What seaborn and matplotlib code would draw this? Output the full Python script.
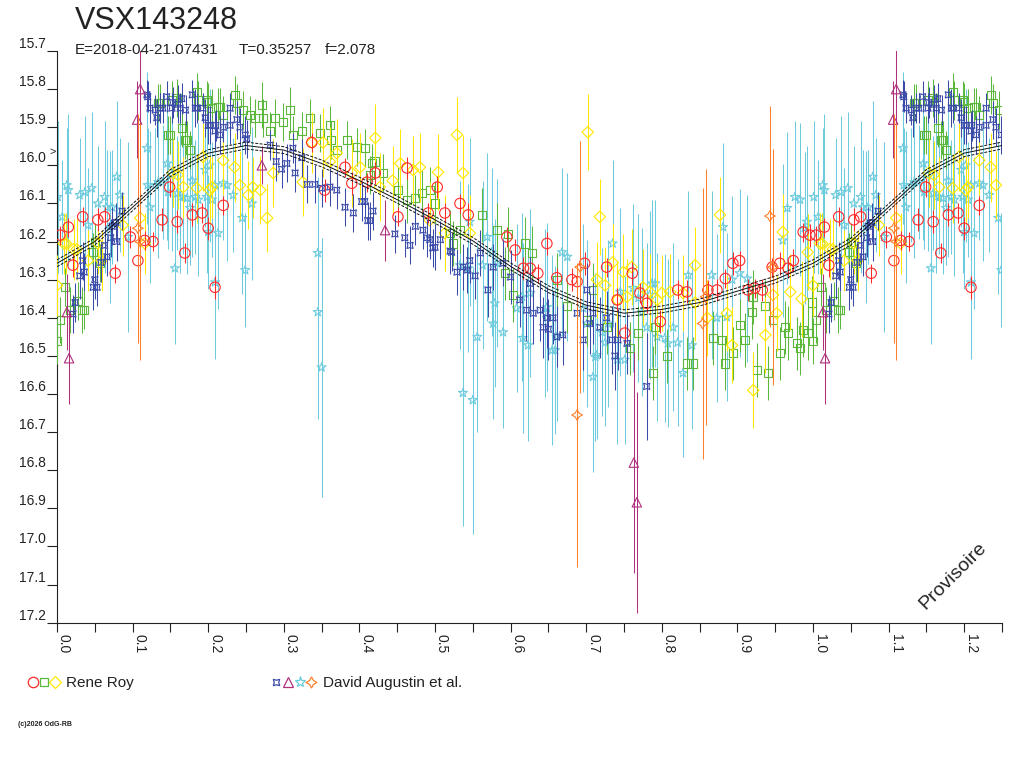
import numpy as np
import pandas as pd
import seaborn as sns
import matplotlib
matplotlib.use("Agg")
from matplotlib import pyplot as plt
from matplotlib.lines import Line2D
from matplotlib.legend_handler import HandlerTuple

# each row: phase, magnitude, error
roy_circle = [
    [0.004, 16.183, 0.025], [0.015, 16.162, 0.025], [0.021, 16.262, 0.03], [0.034, 16.135, 0.025],
    [0.054, 16.143, 0.03], [0.063, 16.135, 0.025], [0.077, 16.283, 0.025], [0.097, 16.188, 0.03],
    [0.107, 16.25, 0.03], [0.116, 16.197, 0.025], [0.127, 16.20, 0.025], [0.139, 16.143, 0.03],
    [0.149, 16.057, 0.025], [0.159, 16.148, 0.03], [0.169, 16.23, 0.025], [0.179, 16.13, 0.03],
    [0.192, 16.125, 0.025], [0.200, 16.165, 0.03], [0.209, 16.32, 0.03], [0.220, 16.105, 0.025],
    [0.337, 15.94, 0.025], [0.354, 16.065, 0.03], [0.381, 16.005, 0.025], [0.390, 16.047, 0.03],
    [0.410, 16.044, 0.025], [0.421, 16.02, 0.03], [0.451, 16.135, 0.025], [0.463, 16.007, 0.03],
    [0.491, 16.125, 0.025], [0.503, 16.057, 0.03], [0.513, 16.125, 0.025], [0.533, 16.10, 0.025],
    [0.544, 16.13, 0.03], [0.595, 16.188, 0.025], [0.606, 16.222, 0.03], [0.617, 16.27, 0.03],
    [0.626, 16.27, 0.025], [0.636, 16.283, 0.025], [0.648, 16.205, 0.03], [0.661, 16.295, 0.025],
    [0.681, 16.30, 0.03], [0.688, 16.305, 0.025], [0.698, 16.257, 0.03], [0.727, 16.267, 0.025],
    [0.741, 16.353, 0.03], [0.751, 16.44, 0.025], [0.761, 16.283, 0.03], [0.771, 16.335, 0.025],
    [0.780, 16.362, 0.025], [0.798, 16.41, 0.03], [0.821, 16.327, 0.025], [0.833, 16.332, 0.03],
    [0.861, 16.327, 0.025], [0.873, 16.327, 0.03], [0.884, 16.297, 0.025], [0.894, 16.257, 0.03],
    [0.903, 16.25, 0.025], [0.914, 16.327, 0.03], [0.923, 16.322, 0.025], [0.933, 16.327, 0.03],
    [0.946, 16.267, 0.025], [0.956, 16.257, 0.03], [0.967, 16.27, 0.025], [0.974, 16.25, 0.03],
    [0.987, 16.175, 0.025], [0.996, 16.183, 0.03],
]

roy_square = [
    [0.000, 16.46, 0.06], [0.004, 16.405, 0.06], [0.011, 16.32, 0.05], [0.017, 16.38, 0.06],
    [0.028, 16.355, 0.05], [0.033, 16.38, 0.06], [0.036, 16.38, 0.05], [0.048, 16.228, 0.05],
    [0.050, 16.20, 0.05], [0.057, 16.257, 0.05], [0.134, 15.837, 0.05], [0.136, 15.837, 0.05],
    [0.147, 15.92, 0.05], [0.150, 15.92, 0.05], [0.152, 15.83, 0.05], [0.159, 15.823, 0.05],
    [0.165, 15.903, 0.05], [0.169, 15.933, 0.05], [0.172, 15.933, 0.05], [0.176, 15.96, 0.05],
    [0.185, 15.807, 0.05], [0.187, 15.83, 0.05], [0.198, 15.83, 0.05], [0.200, 15.835, 0.05],
    [0.205, 15.85, 0.05], [0.213, 15.847, 0.05], [0.216, 15.847, 0.05], [0.220, 15.868, 0.05],
    [0.235, 15.815, 0.05], [0.238, 15.837, 0.05], [0.246, 15.855, 0.05], [0.255, 15.868, 0.05],
    [0.262, 15.875, 0.05], [0.271, 15.842, 0.06], [0.272, 15.875, 0.05], [0.282, 15.91, 0.05],
    [0.288, 15.875, 0.05], [0.299, 15.886, 0.05], [0.308, 15.855, 0.06], [0.312, 15.92, 0.05],
    [0.324, 15.91, 0.05], [0.335, 15.875, 0.05], [0.348, 15.915, 0.05], [0.361, 15.895, 0.05],
    [0.363, 15.933, 0.05], [0.370, 15.96, 0.05], [0.384, 15.933, 0.05], [0.397, 15.952, 0.05],
    [0.407, 15.955, 0.05], [0.414, 16.025, 0.05], [0.417, 15.995, 0.05], [0.420, 15.99, 0.05],
    [0.431, 16.02, 0.05], [0.451, 16.065, 0.06], [0.463, 16.09, 0.06], [0.474, 16.085, 0.06],
    [0.483, 16.073, 0.06], [0.493, 16.065, 0.06], [0.500, 16.10, 0.06], [0.520, 16.178, 0.06],
    [0.524, 16.205, 0.06], [0.533, 16.17, 0.06], [0.562, 16.13, 0.07], [0.582, 16.17, 0.07],
    [0.593, 16.283, 0.07], [0.597, 16.18, 0.07], [0.603, 16.34, 0.07], [0.619, 16.205, 0.07],
    [0.628, 16.23, 0.07], [0.661, 16.30, 0.07], [0.675, 16.37, 0.07], [0.701, 16.405, 0.07],
    [0.709, 16.327, 0.07], [0.727, 16.425, 0.07], [0.758, 16.48, 0.07], [0.769, 16.44, 0.07],
    [0.788, 16.545, 0.07], [0.791, 16.425, 0.07], [0.807, 16.50, 0.07], [0.833, 16.52, 0.07],
    [0.841, 16.52, 0.07], [0.868, 16.453, 0.07], [0.880, 16.458, 0.07], [0.884, 16.52, 0.07],
    [0.894, 16.493, 0.07], [0.903, 16.42, 0.07], [0.910, 16.458, 0.07], [0.919, 16.385, 0.07],
    [0.921, 16.345, 0.07], [0.926, 16.537, 0.07], [0.937, 16.37, 0.07], [0.940, 16.545, 0.07],
    [0.947, 16.405, 0.07], [0.956, 16.493, 0.07], [0.963, 16.425, 0.07], [0.967, 16.44, 0.07],
    [0.979, 16.467, 0.07], [0.983, 16.48, 0.07], [0.987, 16.433, 0.07], [0.993, 16.44, 0.07],
    [0.999, 16.36, 0.07],
]

roy_diamond = [
    [0.000, 16.315, 0.08], [0.009, 16.205, 0.08], [0.012, 16.205, 0.08], [0.022, 16.22, 0.08],
    [0.026, 16.22, 0.08], [0.041, 16.25, 0.08], [0.054, 16.205, 0.08], [0.059, 16.25, 0.08],
    [0.087, 16.157, 0.08], [0.110, 16.138, 0.09], [0.116, 16.205, 0.08], [0.153, 16.02, 0.09],
    [0.160, 16.025, 0.09], [0.167, 16.057, 0.08], [0.185, 16.06, 0.09], [0.193, 15.978, 0.09],
    [0.202, 16.065, 0.09], [0.205, 16.057, 0.08], [0.220, 15.987, 0.09], [0.235, 16.005, 0.09],
    [0.242, 16.052, 0.09], [0.253, 16.078, 0.09], [0.259, 16.057, 0.08], [0.269, 16.065, 0.09],
    [0.278, 16.138, 0.09], [0.286, 16.02, 0.09], [0.325, 16.044, 0.09], [0.337, 15.94, 0.08],
    [0.352, 15.94, 0.09], [0.361, 15.99, 0.09], [0.370, 15.968, 0.09], [0.390, 16.02, 0.09],
    [0.401, 16.005, 0.09], [0.421, 15.928, 0.09], [0.427, 16.057, 0.09], [0.444, 16.04, 0.09],
    [0.454, 15.995, 0.09], [0.471, 16.012, 0.09], [0.480, 16.005, 0.09], [0.493, 16.144, 0.10],
    [0.504, 16.018, 0.10], [0.513, 16.178, 0.10], [0.529, 15.92, 0.10], [0.537, 16.02, 0.10],
    [0.546, 16.178, 0.10], [0.702, 15.913, 0.10], [0.714, 16.30, 0.10], [0.718, 16.135, 0.10],
    [0.725, 16.315, 0.10], [0.735, 16.255, 0.10], [0.741, 16.353, 0.10], [0.749, 16.28, 0.10],
    [0.754, 16.345, 0.10], [0.760, 16.267, 0.10], [0.775, 16.32, 0.10], [0.784, 16.332, 0.10],
    [0.794, 16.353, 0.10], [0.800, 16.335, 0.10], [0.811, 16.332, 0.10], [0.828, 16.335, 0.10],
    [0.844, 16.262, 0.10], [0.844, 16.36, 0.10], [0.860, 16.40, 0.10], [0.877, 16.13, 0.10],
    [0.886, 16.388, 0.10], [0.893, 16.472, 0.10], [0.921, 16.59, 0.10], [0.937, 16.445, 0.10],
    [0.947, 16.34, 0.10], [0.952, 16.388, 0.10], [0.960, 16.175, 0.10], [0.970, 16.332, 0.10],
    [0.985, 16.35, 0.10], [0.993, 16.228, 0.10],
]

aug_cross = [
    [0.021, 16.39, 0.05], [0.024, 16.36, 0.05], [0.030, 16.29, 0.06], [0.034, 16.25, 0.05],
    [0.036, 16.28, 0.05], [0.048, 16.32, 0.06], [0.050, 16.30, 0.05], [0.053, 16.32, 0.05],
    [0.058, 16.255, 0.05], [0.063, 16.21, 0.05], [0.066, 16.24, 0.05], [0.071, 16.19, 0.05],
    [0.073, 16.16, 0.05], [0.078, 16.15, 0.05], [0.079, 16.20, 0.05], [0.086, 16.12, 0.05],
    [0.119, 15.815, 0.04], [0.120, 15.82, 0.04], [0.123, 15.85, 0.04], [0.130, 15.855, 0.04],
    [0.132, 15.875, 0.05], [0.136, 15.85, 0.04], [0.140, 15.85, 0.04], [0.145, 15.82, 0.04],
    [0.152, 15.85, 0.04], [0.153, 15.835, 0.04], [0.160, 15.84, 0.05], [0.163, 15.85, 0.04],
    [0.165, 15.825, 0.04], [0.170, 15.855, 0.04], [0.179, 15.815, 0.04], [0.183, 15.85, 0.05],
    [0.185, 15.85, 0.04], [0.193, 15.85, 0.04], [0.196, 15.875, 0.05], [0.200, 15.895, 0.05],
    [0.202, 15.895, 0.05], [0.209, 15.91, 0.05], [0.210, 15.895, 0.04], [0.216, 15.92, 0.05],
    [0.220, 15.90, 0.04], [0.229, 15.895, 0.05], [0.229, 15.85, 0.04], [0.238, 15.88, 0.05],
    [0.242, 15.90, 0.05], [0.249, 15.92, 0.05], [0.251, 15.93, 0.05], [0.282, 15.947, 0.04],
    [0.290, 15.99, 0.05], [0.297, 16.01, 0.05], [0.304, 15.995, 0.05], [0.312, 15.955, 0.04],
    [0.315, 16.02, 0.05], [0.324, 15.98, 0.05], [0.331, 16.05, 0.05], [0.341, 16.05, 0.05],
    [0.350, 16.06, 0.05], [0.361, 16.057, 0.05], [0.370, 16.065, 0.05], [0.381, 16.11, 0.05],
    [0.392, 16.125, 0.05], [0.403, 16.095, 0.05], [0.407, 16.095, 0.04], [0.411, 16.145, 0.05],
    [0.414, 16.145, 0.05], [0.418, 16.12, 0.05], [0.447, 16.18, 0.05], [0.460, 16.19, 0.05],
    [0.467, 16.21, 0.05], [0.474, 16.16, 0.05], [0.484, 16.17, 0.05], [0.489, 16.19, 0.05],
    [0.493, 16.195, 0.05], [0.497, 16.217, 0.05], [0.500, 16.215, 0.06], [0.507, 16.195, 0.05],
    [0.520, 16.225, 0.06], [0.522, 16.228, 0.05], [0.529, 16.28, 0.06], [0.537, 16.267, 0.06],
    [0.542, 16.275, 0.06], [0.546, 16.25, 0.06], [0.553, 16.29, 0.06], [0.560, 16.23, 0.06],
    [0.570, 16.327, 0.07], [0.577, 16.267, 0.06], [0.590, 16.257, 0.06], [0.600, 16.293, 0.07],
    [0.612, 16.353, 0.07], [0.621, 16.38, 0.08], [0.626, 16.31, 0.07], [0.630, 16.388, 0.08],
    [0.639, 16.38, 0.08], [0.643, 16.425, 0.08], [0.648, 16.40, 0.08], [0.650, 16.43, 0.08],
    [0.656, 16.40, 0.07], [0.661, 16.45, 0.08], [0.669, 16.445, 0.08], [0.688, 16.388, 0.07],
    [0.696, 16.458, 0.08], [0.701, 16.327, 0.07], [0.705, 16.415, 0.08], [0.709, 16.388, 0.08],
    [0.718, 16.425, 0.08], [0.727, 16.40, 0.07], [0.734, 16.458, 0.09], [0.738, 16.50, 0.09],
    [0.742, 16.458, 0.08], [0.754, 16.467, 0.08], [0.780, 16.58, 0.14],
]

aug_triangle = [
    [0.013, 16.385, 0.10], [0.016, 16.506, 0.12], [0.106, 15.88, 0.10], [0.110, 15.80, 0.12],
    [0.271, 16.00, 0.05], [0.434, 16.17, 0.08], [0.763, 16.78, 0.29], [0.767, 16.884, 0.29],
]

aug_star = [
    [0.001, 16.083, 0.20], [0.007, 16.135, 0.15], [0.013, 16.052, 0.15], [0.015, 16.065, 0.20],
    [0.030, 16.078, 0.15], [0.037, 16.07, 0.20], [0.041, 16.157, 0.15], [0.046, 16.06, 0.20],
    [0.054, 16.10, 0.15], [0.063, 16.083, 0.20], [0.066, 16.11, 0.15], [0.070, 16.162, 0.20],
    [0.073, 16.11, 0.15], [0.079, 16.03, 0.20], [0.083, 16.078, 0.15], [0.094, 16.188, 0.25],
    [0.119, 15.955, 0.20], [0.120, 16.052, 0.15], [0.123, 16.11, 0.20], [0.130, 16.052, 0.15],
    [0.134, 16.044, 0.20], [0.140, 16.044, 0.15], [0.146, 15.995, 0.20], [0.147, 16.07, 0.15],
    [0.152, 16.025, 0.20], [0.156, 16.27, 0.20], [0.159, 16.073, 0.15], [0.163, 16.083, 0.20],
    [0.167, 16.083, 0.15], [0.172, 16.086, 0.20], [0.176, 16.112, 0.15], [0.179, 16.04, 0.20],
    [0.183, 16.083, 0.15], [0.187, 16.09, 0.20], [0.196, 16.012, 0.15], [0.198, 16.083, 0.20],
    [0.200, 16.175, 0.15], [0.202, 16.00, 0.20], [0.205, 16.09, 0.15], [0.209, 16.307, 0.20],
    [0.209, 16.052, 0.15], [0.213, 16.178, 0.20], [0.220, 16.047, 0.15], [0.225, 16.052, 0.20],
    [0.233, 16.078, 0.15], [0.245, 16.138, 0.20], [0.249, 16.275, 0.15], [0.258, 16.10, 0.20],
    [0.345, 16.23, 0.20], [0.345, 16.385, 0.28], [0.350, 16.53, 0.34], [0.533, 16.262, 0.22],
    [0.537, 16.597, 0.35], [0.544, 16.27, 0.22], [0.546, 16.148, 0.22], [0.550, 16.616, 0.35],
    [0.556, 16.45, 0.25], [0.563, 16.262, 0.22], [0.569, 16.188, 0.22], [0.575, 16.228, 0.22],
    [0.577, 16.415, 0.25], [0.579, 16.362, 0.22], [0.582, 16.257, 0.22], [0.590, 16.438, 0.25],
    [0.608, 16.375, 0.22], [0.615, 16.345, 0.22], [0.616, 16.453, 0.25], [0.623, 16.472, 0.25],
    [0.626, 16.335, 0.22], [0.646, 16.388, 0.22], [0.648, 16.372, 0.22], [0.655, 16.485, 0.25],
    [0.659, 16.485, 0.22], [0.661, 16.45, 0.22], [0.668, 16.228, 0.22], [0.675, 16.24, 0.22],
    [0.696, 16.375, 0.22], [0.701, 16.415, 0.22], [0.709, 16.555, 0.25], [0.712, 16.503, 0.22],
    [0.714, 16.498, 0.22], [0.721, 16.438, 0.22], [0.725, 16.465, 0.22], [0.729, 16.415, 0.22],
    [0.735, 16.205, 0.22], [0.741, 16.51, 0.22], [0.745, 16.332, 0.22], [0.751, 16.51, 0.22],
    [0.762, 16.322, 0.22], [0.769, 16.348, 0.22], [0.774, 16.385, 0.22], [0.780, 16.425, 0.22],
    [0.784, 16.34, 0.22], [0.787, 16.31, 0.22], [0.791, 16.31, 0.22], [0.794, 16.45, 0.22],
    [0.804, 16.453, 0.22], [0.808, 16.467, 0.22], [0.815, 16.425, 0.22], [0.821, 16.465, 0.22],
    [0.828, 16.545, 0.22], [0.835, 16.288, 0.22], [0.840, 16.472, 0.22], [0.866, 16.288, 0.22],
    [0.873, 16.40, 0.22], [0.881, 16.162, 0.22], [0.886, 16.398, 0.22], [0.893, 16.30, 0.22],
    [0.903, 16.283, 0.22], [0.913, 16.297, 0.22], [0.960, 16.197, 0.20], [0.966, 16.112, 0.20],
    [0.976, 16.083, 0.20], [0.983, 16.09, 0.20], [0.989, 16.165, 0.20], [0.992, 16.148, 0.20],
]

aug_plus = [
    [0.107, 16.165, 0.30], [0.110, 16.20, 0.31], [0.688, 16.655, 0.40], [0.692, 16.267, 0.33],
    [0.854, 16.415, 0.355], [0.858, 16.345, 0.335], [0.943, 16.133, 0.29], [0.947, 16.267, 0.31],
]

# fitted mean light curve, read every 0.05 in phase
fit_phase = [0.00, 0.05, 0.10, 0.15, 0.20, 0.25, 0.30, 0.35, 0.40, 0.45,
             0.50, 0.55, 0.60, 0.65, 0.70, 0.75, 0.80, 0.85, 0.90, 0.95]
fit_mag = [16.257, 16.200, 16.110, 16.020, 15.968, 15.948, 15.960, 15.995, 16.040, 16.090,
           16.143, 16.198, 16.265, 16.325, 16.367, 16.388, 16.378, 16.360, 16.330, 16.300]
fit_band = 0.009

y_ticks = [15.7, 15.8, 15.9, 16.0, 16.1, 16.2, 16.3, 16.4, 16.5, 16.6, 16.7, 16.8, 16.9, 17.0, 17.1, 17.2]

RED, GREEN, YELLOW = '#ff2a2a', '#5cb83c', '#ffe800'
BLUE, PURPLE, CYAN, ORANGE = '#3a4aa8', '#b0307c', '#6ccbdc', '#ff7f2a'
TXT = '#222222'


def fold(rows, upto=0.25):
    # repeat the start of the cycle after phase 1
    df = pd.DataFrame(rows, columns=['phase', 'mag', 'err'])
    extra = df[df.phase <= upto].copy()
    extra['phase'] += 1.0
    return pd.concat([df, extra], ignore_index=True)


sns.set_style('white')
plt.rcParams['font.family'] = ['Liberation Sans', 'DejaVu Sans']

fig = plt.figure(figsize=(10.24, 7.68), dpi=100)
ax = fig.add_axes([57 / 1024, 1 - 622.7 / 768, 945 / 1024, 571.7 / 768])

series = [
    (aug_star, '*', CYAN, 46),
    (roy_square, 's', GREEN, 34),
    (roy_diamond, 'D', YELLOW, 34),
    (roy_circle, 'o', RED, 56),
    (aug_cross, (4, 1, 45), BLUE, 40),
    (aug_triangle, '^', PURPLE, 46),
    (aug_plus, (4, 1, 0), ORANGE, 60),
]
for z, (rows, marker, color, size) in enumerate(series):
    df = fold(rows)
    ax.errorbar(df.phase, df.mag, yerr=df.err, fmt='none', ecolor=color,
                elinewidth=0.75, capsize=0, zorder=2 + z)
    sns.scatterplot(data=df, x='phase', y='mag', ax=ax, marker=marker, s=size,
                    facecolor='none', edgecolor=color, linewidth=0.8,
                    legend=False, zorder=2.5 + z)

# fitted curve with its band
fit = pd.DataFrame({'phase': fit_phase, 'mag': fit_mag})
fit = pd.concat([fit, fit.assign(phase=fit.phase + 1.0)], ignore_index=True)
fit = fit[fit.phase <= 1.35]
ax.plot(fit.phase, fit.mag, color='#111111', lw=0.7, zorder=20)
ax.plot(fit.phase, fit.mag - fit_band, color='#111111', lw=0.7, ls=(0, (3, 1.5)), zorder=20)
ax.plot(fit.phase, fit.mag + fit_band, color='#111111', lw=0.7, ls=(0, (3, 1.5)), zorder=20)

ax.set_xlim(0, 1.25)
ax.set_ylim(17.2, 15.7)
ax.set_xlabel('')
ax.set_ylabel('')

xt = np.round(np.arange(0, 1.2501, 0.05), 2)
ax.set_xticks(xt)
ax.set_xticklabels(['%.1f' % v if abs(v * 10 - round(v * 10)) < 1e-6 and v < 1.24 else '' for v in xt])
ax.set_yticks(y_ticks)
ax.set_yticklabels(['%.1f' % v for v in y_ticks])

ax.tick_params(axis='x', bottom=True, direction='out', length=6.5, width=0.8,
               color=TXT, labelsize=10, labelcolor=TXT, pad=1.5, labelrotation=-90)
ax.tick_params(axis='y', left=True, direction='out', length=7.2, width=0.8,
               color=TXT, labelsize=10, labelcolor=TXT, pad=0.7)
for lab in ax.get_xticklabels():
    lab.set_ha('left')
    lab.set_va('top')
for lab in ax.get_yticklabels():
    lab.set_va('bottom')

sns.despine(ax=ax)
for side in ('left', 'bottom'):
    ax.spines[side].set_color(TXT)
    ax.spines[side].set_linewidth(0.8)

# titles and annotations
fig.text(75 / 1024, 1 - 29 / 768, 'VSX143248', fontsize=22, color=TXT, va='baseline')
fig.text(75 / 1024, 1 - 54 / 768, 'E=2018-04-21.07431', fontsize=11, color=TXT, va='baseline')
fig.text(239 / 1024, 1 - 54 / 768, 'T=0.35257', fontsize=11, color=TXT, va='baseline')
fig.text(325 / 1024, 1 - 54 / 768, 'f=2.078', fontsize=11, color=TXT, va='baseline')
fig.text(49 / 1024, 1 - 152 / 768, '>', fontsize=8, color=TXT, va='center')
fig.text(953 / 1024, 1 - 576 / 768, 'Provisoire', fontsize=14, color=TXT,
         rotation=45, ha='center', va='center')
fig.text(18 / 1024, 1 - 725 / 768, '(c)2026 OdG-RB', fontsize=5, color=TXT,
         va='center', fontweight='bold')


def handle(marker, color, ms):
    return Line2D([], [], ls='none', marker=marker, mfc='none', mec=color, ms=ms, mew=0.9)


roy_h = (handle('o', RED, 7.5), handle('s', GREEN, 6), handle('D', YELLOW, 6))
aug_h = (handle((4, 1, 45), BLUE, 6.5), handle('^', PURPLE, 7),
         handle('*', CYAN, 8), handle((4, 1, 0), ORANGE, 8))
common = dict(handler_map={tuple: HandlerTuple(ndivide=None, pad=0)}, loc='center left',
              frameon=False, borderpad=0, borderaxespad=0, handletextpad=0.35,
              fontsize=11, labelcolor=TXT)
fig.legend([roy_h], ['Rene Roy'], bbox_to_anchor=(27 / 1024, 1 - 683 / 768),
           handlelength=2.2, **common)
fig.legend([aug_h], ['David Augustin et al.'], bbox_to_anchor=(270 / 1024, 1 - 683 / 768),
           handlelength=3.1, **common)

fig.savefig('out.png', dpi=100)
